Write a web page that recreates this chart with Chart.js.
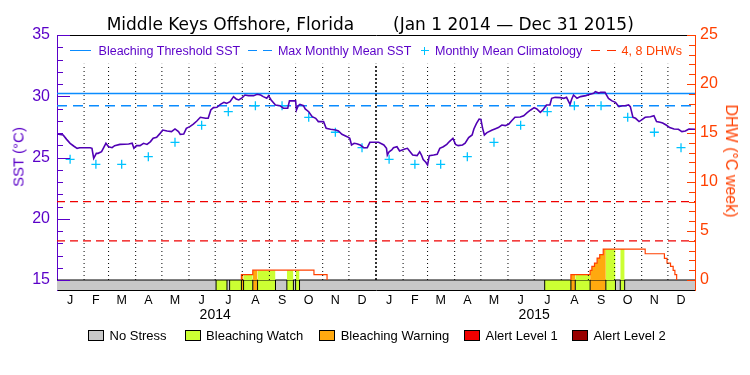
<!DOCTYPE html>
<html>
<head>
<meta charset="utf-8">
<script src="https://cdn.jsdelivr.net/npm/chart.js@4.4.1/dist/chart.umd.min.js"></script>
<style>
  body { margin: 0; background: #fff; }
  #wrap { position: relative; width: 750px; height: 375px; font-family: "Liberation Sans", Arial, sans-serif; }
  #c { position: absolute; left: 0; top: 0; }
  .t { position: absolute; white-space: nowrap; line-height: 1; }
  .title { font-family: "DejaVu Sans", sans-serif; font-size: 17px; color: #000; top: 15.6px; }
  .leg { font-size: 12.5px; color: #5a00c8; top: 44.7px; }
  .hl { position: absolute; height: 0; }
  .box { position: absolute; top: 330px; width: 14px; height: 9px; border: 1px solid #000; }
  .blab { font-size: 13px; color: #000; top: 329px; }
  .rot { position: absolute; white-space: nowrap; line-height: 1; transform: translate(-50%, -50%) rotate(-90deg); }
</style>
</head>
<body>
<div id="wrap">
  <canvas id="c" width="750" height="375"></canvas>

  <div class="t title" style="left:106.7px">Middle Keys Offshore, Florida</div>
  <div class="t title" style="left:393px">(Jan 1 2014 — Dec 31 2015)</div>

  <div class="hl" style="left:69.7px;top:50.3px;width:21.6px;border-top:1.5px solid #0a8cff"></div>
  <div class="t leg" style="left:98.6px">Bleaching Threshold SST</div>
  <div class="hl" style="left:247.6px;top:50.3px;width:9px;border-top:1.5px solid #0a8cff"></div>
  <div class="hl" style="left:263px;top:50.3px;width:9px;border-top:1.5px solid #0a8cff"></div>
  <div class="t leg" style="left:277.9px">Max Monthly Mean SST</div>
  <div class="hl" style="left:420.5px;top:50.3px;width:8px;border-top:1.3px solid #00c3ff"></div>
  <div style="position:absolute;left:423.9px;top:46.5px;width:0;height:8px;border-left:1.3px solid #00c3ff"></div>
  <div class="t leg" style="left:435px">Monthly Mean Climatology</div>
  <div class="hl" style="left:591.3px;top:50.3px;width:9px;border-top:1.3px solid #ff3000"></div>
  <div class="hl" style="left:606.5px;top:50.3px;width:9px;border-top:1.3px solid #ff3000"></div>
  <div class="t leg" style="left:621.6px;color:#ff4000">4, 8 DHWs</div>

  <div class="rot" style="left:17.5px;top:156.7px;font-size:15px;color:#5a00c8">SST (°C)</div>
  <div class="rot" style="left:731px;top:160.7px;font-size:16px;color:#ff4000;transform:translate(-50%,-50%) rotate(90deg)">DHW (°C week)</div>

  <div id="stressLegend"></div>
</div>
<script>
// ---- data ----
const monthLetters = ['J', 'F', 'M', 'A', 'M', 'J', 'J', 'A', 'S', 'O', 'N', 'D'];
const monthLengths = [31, 28, 31, 30, 31, 30, 31, 31, 30, 31, 30, 31];
const yearLabels = ['2014', '2015'];

const climatology = [24.85, 24.44, 24.44, 25.07, 26.24, 27.63, 28.74, 29.23, 29.23, 28.28, 27.06, 25.80];
const maxMonthlyMean = 29.23;
const bleachingThreshold = 30.23;
const dhwMarks = [4, 8];

// daily SST (day 0 = Jan 1 2014)
const sstDay = [0, 7, 11, 15, 19, 23, 26, 38, 40, 42, 45, 47, 51, 54, 56, 59, 63, 66, 72, 82, 86, 88, 91, 95, 99,
  103, 107, 110, 114, 118, 121, 126, 131, 135, 139, 141, 145, 148, 152, 156, 160, 164, 170, 173, 176, 179, 183,
  187, 191, 194, 198, 202, 205, 208, 212, 215, 219, 225, 229, 233, 236, 240, 242, 245, 250, 255, 259, 264, 266,
  273, 274, 276, 278, 282, 284, 288, 292, 296, 299, 305, 308, 313, 319, 322, 326, 332, 335, 337, 340, 343, 347,
  351, 355, 358, 368, 374, 377, 378, 380, 383, 385, 389, 392, 395, 398, 401, 404, 407, 412, 415, 417, 419, 422,
  424, 426, 431, 435, 438, 442, 446, 449, 453, 456, 459, 464, 467, 471, 475, 477, 480, 483, 485, 487, 489, 492,
  498, 501, 505, 509, 513, 517, 520, 524, 530, 534, 538, 542, 546, 549, 553, 556, 560, 564, 566, 570, 576, 580,
  583, 587, 589, 591, 595, 599, 605, 610, 614, 616, 620, 622, 627, 631, 635, 639, 643, 647, 650, 654, 656, 659,
  662, 666, 669, 673, 679, 683, 686, 690, 693, 697, 701, 706, 711, 715, 719, 723, 730];
const sstVal = [26.92, 26.84, 26.48, 26.16, 25.94, 25.75, 25.80, 25.80, 25.75, 24.93, 25.34, 25.34, 25.47, 25.88,
  26.16, 25.88, 25.80, 25.97, 26.07, 26.10, 26.16, 25.75, 25.97, 25.97, 26.16, 26.07, 26.30, 26.57, 26.65, 26.97,
  27.24, 27.16, 27.11, 27.33, 27.11, 26.89, 26.92, 27.38, 27.52, 27.73, 27.98, 28.28, 28.20, 28.20, 28.88, 29.07,
  29.10, 29.34, 29.50, 29.42, 29.56, 29.97, 29.78, 29.70, 29.89, 30.10, 30.05, 30.05, 30.16, 30.10, 29.97, 29.83,
  30.05, 29.70, 29.29, 29.23, 29.02, 29.02, 29.62, 29.62, 28.88, 29.23, 29.34, 29.23, 28.96, 28.74, 28.33, 28.20,
  27.93, 27.93, 27.38, 27.30, 27.24, 27.16, 26.89, 26.70, 26.57, 26.02, 26.16, 26.13, 26.02, 25.80, 25.80, 26.24,
  26.24, 26.02, 25.75, 25.20, 25.47, 25.61, 25.80, 25.88, 25.53, 25.61, 25.69, 25.75, 25.47, 25.20, 25.15, 25.47,
  25.20, 24.83, 24.61, 24.39, 25.15, 25.20, 25.26, 25.75, 25.88, 26.07, 26.30, 26.57, 26.07, 25.97, 26.02, 26.16,
  26.62, 26.84, 27.33, 27.79, 28.14, 28.11, 27.38, 26.84, 27.03, 27.24, 27.33, 27.44, 27.65, 27.60, 27.73, 27.98,
  28.28, 28.30, 28.41, 28.66, 28.88, 29.07, 28.96, 28.69, 28.88, 29.29, 29.29, 29.83, 29.91, 29.89, 29.83, 29.91,
  29.34, 29.78, 30.10, 29.83, 29.97, 30.05, 30.16, 30.24, 30.37, 30.26, 30.32, 30.32, 29.83, 29.62, 29.50, 29.15,
  29.23, 29.23, 29.29, 29.15, 28.28, 28.20, 27.93, 28.07, 28.28, 28.33, 28.41, 27.93, 27.88, 27.82, 27.65, 27.44,
  27.33, 27.30, 27.11, 27.16, 27.33, 27.30];

// degree heating weeks, step changes (null breaks the outline)
const dhwDay = [211, 211, 224, 294, 309, 309, 588, 588, 610, 612, 615, 618, 621, 625, 673, 695, 698, 702, 705, 707, 709];
const dhwVal = [0, 0.54, 1.0, 0.54, 0, null, 0, 0.54, 0.98, 1.39, 1.73, 2.24, 2.58, 3.16, 2.68, 2.2, 1.73, 1.39, 0.98, 0.54, 0];

// daily stress level runs: 0 none, 1 watch, 2 warning, 3 alert 1, 4 alert 2
const stressStart = [0, 182, 194.5, 197.5, 211, 213.5, 224, 229.5, 250, 263, 270.5, 273, 277.5, 558, 588, 593, 610, 628, 639, 644.5, 649.5];
const stressLevel = [0, 1, 0, 1, 2, 1, 2, 1, 0, 1, 0, 1, 0, 1, 2, 1, 2, 1, 0, 1, 0];
const stressNames = ['No Stress', 'Bleaching Watch', 'Bleaching Warning', 'Alert Level 1', 'Alert Level 2'];
const stressColors = ['#c8c8c8', '#ccff33', '#ffa90f', '#f00000', '#990000'];

// ---- styling ----
const PURPLE = '#5a00c8';
const SST_LINE = '#5000b4';
const ORANGE = '#ff4000';
const BLUE = '#0a8cff';
const CYAN = '#00c3ff';
const RED = '#f00000';

const STRIP = 10 / 245; // strip height relative to plotted range
const sstMin = 15 - 20 * STRIP;
const dhwMin = -25 * STRIP;

const monthStart = [];
let total = 0;
yearLabels.forEach(() => monthLengths.forEach(n => { monthStart.push(total); total += n; }));
const monthMid = monthStart.map((s, i) => s + (monthLengths[i % 12] - 1) / 2);
const stressEnd = stressStart.map((s, i) => i < stressStart.length - 1 ? stressStart[i + 1] : total);

function dhwAt(day) {
    let v = 0;
    dhwDay.forEach((d, i) => { if (d <= day && dhwVal[i] != null) v = dhwVal[i]; });
    return v;
}

const datasets = [];
const base = { xAxisID: 'x', pointRadius: 0, tension: 0, fill: false };

// bottom stress strip
stressColors.forEach((col, lvl) => {
    const pts = [];
    stressStart.forEach((s, i) => {
        if (stressLevel[i] === lvl) pts.push({ x: s, y: 0 }, { x: stressEnd[i], y: 0 }, { x: stressEnd[i], y: null });
    });
    datasets.push({ ...base, data: pts, yAxisID: 'yR', fill: 'start', backgroundColor: col, borderWidth: 0, order: 30 });
});
const seps = [];
stressStart.slice(1).forEach(b => seps.push({ x: b, y: dhwMin }, { x: b, y: 0 }, { x: b, y: null }));
datasets.push({ ...base, data: seps, yAxisID: 'yR', borderColor: '#000', borderWidth: 1, order: 29 });
datasets.push({ ...base, data: [{ x: 0, y: 0 }, { x: total, y: 0 }], yAxisID: 'yR', borderColor: '#000', borderWidth: 1, order: 29 });

// colored area under DHW
stressColors.forEach((col, lvl) => {
    if (lvl === 0) return;
    const pts = [];
    stressStart.forEach((s, i) => {
        if (stressLevel[i] !== lvl) return;
        const e = stressEnd[i];
        pts.push({ x: s, y: dhwAt(s) });
        dhwDay.forEach((d, j) => { if (d > s && d < e && dhwVal[j] != null) pts.push({ x: d, y: dhwVal[j] }); });
        pts.push({ x: e, y: dhwAt(e - 0.01) }, { x: e, y: null });
    });
    datasets.push({ ...base, data: pts, yAxisID: 'yR', stepped: true, fill: { value: 0 }, backgroundColor: col, borderWidth: 0, order: 28 });
});
datasets.push({ ...base, data: dhwDay.map((d, i) => ({ x: d, y: dhwVal[i] })), yAxisID: 'yR', stepped: true,
    borderColor: ORANGE, borderWidth: 1.2, order: 27 });

// month separators
const dots = [];
monthStart.forEach(b => { if (b > 0 && b !== 365) dots.push({ x: b, y: 15 }, { x: b, y: 32.65 }, { x: b, y: null }); });
datasets.push({ ...base, data: dots, yAxisID: 'y', borderColor: '#000', borderWidth: 1, borderDash: [1, 3], order: 26 });
datasets.push({ ...base, data: [{ x: 365, y: 15 }, { x: 365, y: 32.65 }], yAxisID: 'y', borderColor: '#000', borderWidth: 1.6, borderDash: [2, 2], order: 26 });

// DHW reference lines
dhwMarks.forEach(v => datasets.push({ ...base, data: [{ x: 0, y: v }, { x: total, y: v }], yAxisID: 'yR',
    borderColor: RED, borderWidth: 1.3, borderDash: [8, 5], order: 25 }));

// climatology lines
datasets.push({ ...base, data: [{ x: 0, y: maxMonthlyMean }, { x: total, y: maxMonthlyMean }], yAxisID: 'y',
    borderColor: BLUE, borderWidth: 1.5, borderDash: [10, 6], order: 24 });
datasets.push({ ...base, data: [{ x: 0, y: bleachingThreshold }, { x: total, y: bleachingThreshold }], yAxisID: 'y',
    borderColor: BLUE, borderWidth: 1.5, order: 24 });
datasets.push({ ...base, data: monthMid.map((m, i) => ({ x: m, y: climatology[i % 12] })), yAxisID: 'y', showLine: false,
    pointStyle: 'cross', pointRadius: 4.5, pointBorderColor: CYAN, pointBorderWidth: 1.3, order: 23 });

// SST
datasets.push({ ...base, data: sstDay.map((d, i) => ({ x: d, y: sstVal[i] })), yAxisID: 'y',
    borderColor: SST_LINE, borderWidth: 1.6, order: 22 });

// ticks pointing into the plot
const innerTicks = {
    id: 'innerTicks',
    afterDatasetsDraw(chart) {
        const { ctx, chartArea, scales } = chart;
        ctx.save();
        ctx.lineWidth = 1;
        ctx.strokeStyle = PURPLE;
        for (let v = 15; v <= 35; v++) {
            const y = Math.round(scales.y.getPixelForValue(v)) + 0.5;
            ctx.beginPath();
            ctx.moveTo(chartArea.left, y);
            ctx.lineTo(chartArea.left + (v % 5 === 0 ? 13 : 6), y);
            ctx.stroke();
        }
        ctx.strokeStyle = ORANGE;
        for (let v = 0; v <= 25; v++) {
            const y = Math.round(scales.yR.getPixelForValue(v)) + 0.5;
            ctx.beginPath();
            ctx.moveTo(chartArea.right, y);
            ctx.lineTo(chartArea.right - (v % 5 === 0 ? 8 : 6), y);
            ctx.stroke();
        }
        ctx.restore();
    }
};

Chart.defaults.font.family = '"Liberation Sans", Arial, sans-serif';
const noGrid = { display: false, drawTicks: false };

new Chart(document.getElementById('c'), {
    type: 'line',
    data: { datasets },
    plugins: [innerTicks],
    options: {
        responsive: false,
        animation: false,
        events: [],
        layout: { padding: { top: 35, left: 0, right: 0, bottom: 0 } },
        plugins: { legend: { display: false }, tooltip: { enabled: false } },
        scales: {
            x: {
                type: 'linear', position: 'bottom', min: 0, max: total, weight: 0,
                afterBuildTicks: s => { s.ticks = monthMid.map(v => ({ value: v })); },
                afterFit: s => { s.height = 16; },
                ticks: { autoSkip: false, maxRotation: 0, padding: 3, color: '#000', font: { size: 12.5 },
                    callback: (v, i) => monthLetters[i % 12] },
                grid: noGrid,
                border: { display: true, color: '#000', width: 1 }
            },
            xY: {
                type: 'linear', position: 'bottom', min: 0, max: total, weight: 1,
                afterBuildTicks: s => { s.ticks = yearLabels.map((y, i) => ({ value: 365 * i + 181 })); },
                afterFit: s => { s.height = 69; },
                ticks: { autoSkip: false, maxRotation: 0, padding: 1, color: '#000', font: { size: 14 },
                    callback: (v, i) => yearLabels[i] },
                grid: noGrid,
                border: { display: false }
            },
            xT: {
                type: 'linear', position: 'top', min: 0, max: total,
                afterFit: s => { s.height = 0; },
                ticks: { display: false },
                grid: noGrid,
                border: { display: true, color: '#000', width: 1 }
            },
            y: {
                type: 'linear', position: 'left', min: sstMin, max: 35,
                afterBuildTicks: s => { s.ticks = [15, 20, 25, 30, 35].map(v => ({ value: v })); },
                afterFit: s => { s.width = 57; },
                ticks: { padding: 7, color: PURPLE, font: { size: 16 } },
                grid: noGrid,
                border: { display: true, color: PURPLE, width: 1 }
            },
            yR: {
                type: 'linear', position: 'right', min: dhwMin, max: 25,
                afterBuildTicks: s => { s.ticks = [0, 5, 10, 15, 20, 25].map(v => ({ value: v })); },
                afterFit: s => { s.width = 55; },
                ticks: { padding: 5, color: ORANGE, font: { size: 16 } },
                grid: noGrid,
                border: { display: true, color: ORANGE, width: 1 }
            }
        }
    }
});

// stress legend under the chart
const boxLeft = [88, 184.6, 319.2, 464, 572];
const legendHtml = stressNames.map((name, i) =>
    `<div class="box" style="left:${boxLeft[i]}px;background:${stressColors[i]}"></div>` +
    `<div class="t blab" style="left:${boxLeft[i] + 21.5}px">${name}</div>`).join('');
document.getElementById('stressLegend').innerHTML = legendHtml;
</script>
</body>
</html>
